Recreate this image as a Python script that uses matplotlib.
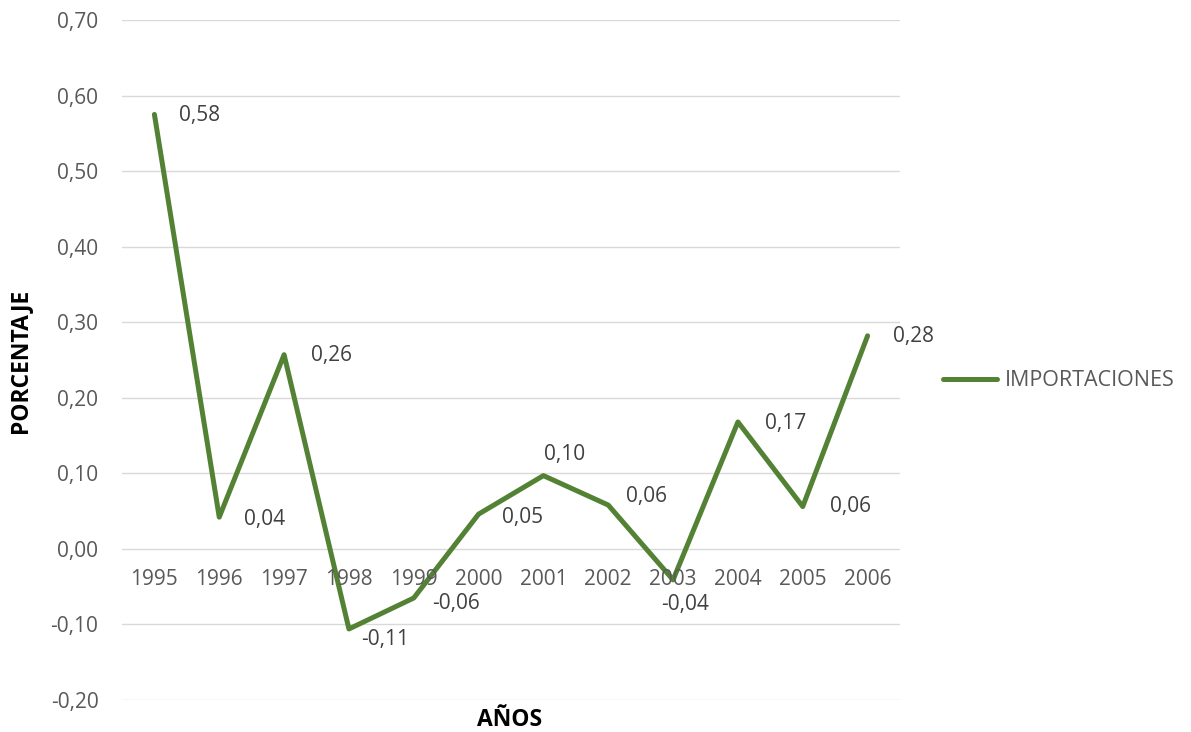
import matplotlib
matplotlib.use("Agg")
import matplotlib.pyplot as plt

years = ["1995", "1996", "1997", "1998", "1999", "2000", "2001", "2002", "2003", "2004", "2005", "2006"]
values = [0.575, 0.042, 0.257, -0.106, -0.065, 0.046, 0.097, 0.058, -0.041, 0.168, 0.056, 0.282]
labels = ["0,58", "0,04", "0,26", "-0,11", "-0,06", "0,05", "0,10", "0,06", "-0,04", "0,17", "0,06", "0,28"]
series_name = "IMPORTACIONES"
yticks = [-0.20, -0.10, 0.0, 0.10, 0.20, 0.30, 0.40, 0.50, 0.60, 0.70]

# label offsets in pixels (dx, dy)
offsets = [(45, -1), (45, -2), (47, -1), (36, -11), (42, -5), (44, -3),
           (21, 21), (38, 9), (12, -25), (48, -2), (48, 0), (46, -1)]

plt.rcParams['font.family'] = ['Open Sans', 'DejaVu Sans']
gray = '#595959'
green = '#548235'
fs = 15

fig = plt.figure(figsize=(11.91, 7.32), dpi=100)
ax = fig.add_axes([122/1191, 1-700/732, (900-122)/1191, (700-20)/732])

x = list(range(len(years)))
line, = ax.plot(x, values, color=green, lw=3.6, solid_capstyle='round', solid_joinstyle='round',
                label=series_name, zorder=3)

for xi, v, lab, (dx, dy) in zip(x, values, labels, offsets):
    ax.annotate(lab, (xi, v), xytext=(dx, dy), textcoords='offset pixels',
                ha='center', va='center', fontsize=fs, color='#404040')

ax.set_xlim(-0.5, len(years) - 0.5)
ax.set_ylim(-0.20, 0.70)
ax.set_yticks(yticks)
ax.set_yticklabels([f"{t:.2f}".replace('.', ',') for t in yticks], fontsize=fs, color=gray)
ax.tick_params(axis='y', length=0, pad=17)
ax.grid(axis='y', color='#d9d9d9', lw=1)
ax.set_axisbelow(True)
for s in ax.spines.values():
    s.set_visible(False)

ax.set_xticks([])
for xi, yr in zip(x, years):
    ax.annotate(yr, (xi, 0), xytext=(0, -31), textcoords='offset pixels',
                ha='center', va='center', fontsize=fs, color=gray)

fig.text(20/1191, 1-361/732, "PORCENTAJE", rotation=90, ha='center', va='center',
         fontsize=16.5, fontweight='bold', color='black')
fig.text(510/1191, 1-720/732, "AÑOS", ha='center', va='center',
         fontsize=16.5, fontweight='bold', color='black')

leg = fig.legend(handles=[line], labels=[series_name], loc='center left',
                 bbox_to_anchor=(924/1191, 1-381/732), frameon=False,
                 fontsize=15.5, handlelength=2.5, handletextpad=0.37)
for t in leg.get_texts():
    t.set_color(gray)

fig.savefig("out.png", dpi=100)
